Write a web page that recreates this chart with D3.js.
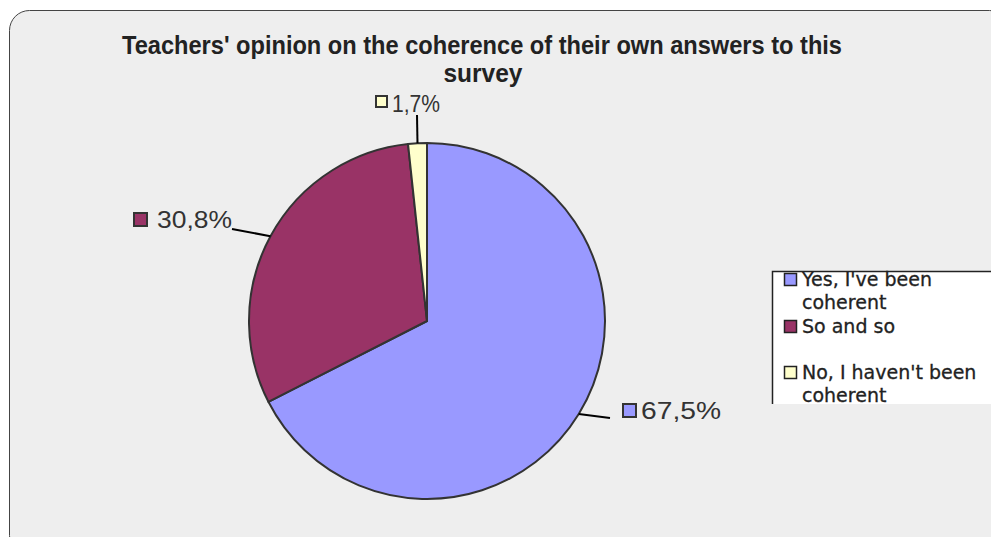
<!DOCTYPE html>
<html><head><meta charset="utf-8">
<script src="https://cdn.jsdelivr.net/npm/d3@7"></script>
<style>html,body{margin:0;padding:0;background:#fff;overflow:hidden}</style>
</head><body>
<svg id="c" width="991" height="537"></svg>
<script>
const titleLines = ["Teachers' opinion on the coherence of their own answers to this", "survey"];
const categories = ["Yes, I've been coherent", "So and so", "No, I haven't been coherent"];
const legendLines = [["Yes, I've been", "coherent"], ["So and so"], ["No, I haven't been", "coherent"]];
const values = [67.5, 30.8, 1.7];
const valueLabels = ["67,5%", "30,8%", "1,7%"];
const colors = ["#9999ff", "#993366", "#ffffcc"];

const svg = d3.select("#c");
// background panel
svg.append("rect").attr("x", 9.5).attr("y", 10.5).attr("width", 1000).attr("height", 545)
  .attr("rx", 20).attr("ry", 20).attr("fill", "#eeeeee").attr("stroke", "#444").attr("stroke-width", 1);

// title
const title = svg.append("text").attr("text-anchor", "middle")
  .attr("font-family", "Liberation Sans, Arial, sans-serif").attr("font-weight", "bold")
  .attr("font-size", 25).attr("fill", "#222");
title.append("tspan").attr("x", 482).attr("y", 54).text(titleLines[0])
  .attr("textLength", 720).attr("lengthAdjust", "spacingAndGlyphs");
title.append("tspan").attr("x", 483).attr("y", 82).text(titleLines[1])
  .attr("textLength", 79).attr("lengthAdjust", "spacingAndGlyphs");

// pie
const cx = 427, cy = 321, r = 178;
const pie = d3.pie().sort(null).value(d => d)(values);
const arc = d3.arc().innerRadius(0).outerRadius(r);
const g = svg.append("g").attr("transform", `translate(${cx},${cy})`);
g.selectAll("path").data(pie).join("path")
  .attr("d", arc).attr("fill", (d, i) => colors[i])
  .attr("stroke", "#333").attr("stroke-width", 2).attr("stroke-linejoin", "round");

// labels with leader lines
const labelPos = [
  {end: [610, 418], box: [623, 404], tx: 641, ty: 419, w: 80},
  {end: [232, 229], box: [134, 213], tx: 157, ty: 228, w: 75},
  {end: [417, 115], box: [376, 96], tx: 392, ty: 112, w: 48}
];
pie.forEach((d, i) => {
  const a = (d.startAngle + d.endAngle) / 2;
  const ex = cx + r * Math.sin(a), ey = cy - r * Math.cos(a);
  const p = labelPos[i];
  svg.append("line").attr("x1", ex).attr("y1", ey).attr("x2", p.end[0]).attr("y2", p.end[1])
    .attr("stroke", "#000").attr("stroke-width", 2);
  const bs = i === 2 ? 11 : 13;
  svg.append("rect").attr("x", p.box[0]).attr("y", p.box[1]).attr("width", bs).attr("height", bs)
    .attr("fill", colors[i]).attr("stroke", "#333").attr("stroke-width", 2);
  svg.append("text").attr("x", p.tx).attr("y", p.ty).text(valueLabels[i])
    .attr("textLength", p.w).attr("lengthAdjust", "spacingAndGlyphs")
    .attr("font-family", "Liberation Sans, Arial, sans-serif").attr("font-size", 24).attr("fill", "#333");
});

// legend
const lg = svg.append("g");
lg.append("rect").attr("x", 772).attr("y", 271).attr("width", 230).attr("height", 133).attr("fill", "#fff");
lg.append("path").attr("d", "M772.5,404 V271.5 H991").attr("fill", "none").attr("stroke", "#222").attr("stroke-width", 1.5);
const legendY = [273, 320, 366];
categories.forEach((c, i) => {
  lg.append("rect").attr("x", 784.5).attr("y", legendY[i] + 0.5).attr("width", 12).attr("height", 12)
    .attr("fill", colors[i]).attr("stroke", "#222").attr("stroke-width", 1.5);
  legendLines[i].forEach((ln, j) => {
    lg.append("text").attr("x", 802).attr("y", legendY[i] + 13 + j * 23).text(ln)
      .attr("font-family", "DejaVu Sans, Verdana, sans-serif").attr("font-size", 19)
      .attr("fill", "#222").attr("stroke", "#222").attr("stroke-width", 0.3);
  });
});
</script>
</body></html>
